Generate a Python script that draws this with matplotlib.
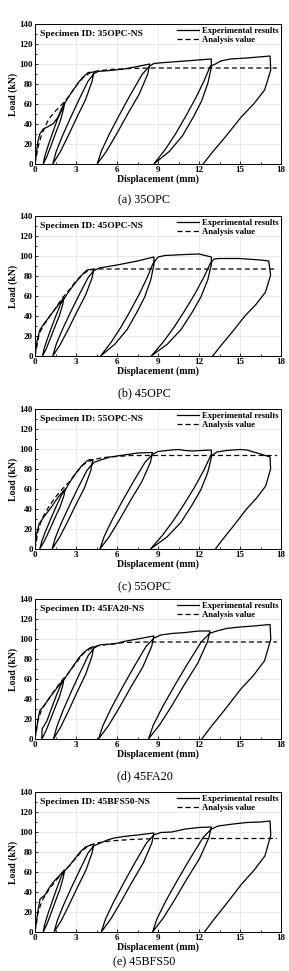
import matplotlib
matplotlib.use('Agg')
import matplotlib.pyplot as plt
from matplotlib.ticker import MultipleLocator

plt.rcParams['font.family'] = ['Liberation Serif', 'DejaVu Serif']

# 35OPC
exp_x_35opc = [0, 0.1, 0.2, 0.35, 0.6, 0.9, 1.3, 1.7, 2.0, 2.15,
               2.09, 1.84, 1.5, 1.17, 0.88, 0.6,
               0.72, 0.96, 1.27, 1.59, 1.93, 2.15,
               2.4, 2.8, 3.2, 3.6, 3.9, 4.3,
               4.18, 3.7, 3.04, 2.41, 1.84, 1.3,
               1.54, 1.99, 2.59, 3.22, 3.88, 4.3,
               4.6, 5.5, 6.5, 7.5, 8.4,
               8.25, 7.63, 6.78, 5.97, 5.24, 4.55,
               4.86, 5.44, 6.21, 7.01, 7.86, 8.4,
               8.7, 9.5, 11.0, 12.9,
               12.9, 12.65, 12.19, 11.6, 10.8, 9.83, 8.7,
               9.54, 10.3, 11.01, 11.77, 12.4, 12.82,
               13.2, 13.6, 14.3, 15.5, 17.2,
               17.25, 16.8, 16.0, 15.09, 13.92, 12.99, 12.3]
exp_y_35opc = [0, 10, 22, 30, 35, 37, 40, 47, 55, 61,
               55, 42.7, 30.5, 18.3, 7.9, 0,
               7.9, 18.3, 30.5, 42.7, 55, 60,
               66, 74, 82, 88, 91.5, 92,
               82.8, 64.4, 46, 27.6, 12, 0,
               12, 27.6, 46, 64.4, 82.8, 90.2,
               92.5, 93.5, 95, 97.5, 100,
               90, 70, 50, 30, 13, 0,
               13, 30, 50, 70, 90, 98,
               100.5, 101.5, 103, 105,
               96.6, 80.9, 63, 47.3, 28.4, 12.6, 0,
               14.7, 30.5, 47.3, 66.2, 84, 97.7,
               100, 103, 105, 106, 108,
               94, 74, 60, 47, 27, 12, 0]
ana_x_35opc = [0, 0.2, 0.5, 1.0, 1.5, 2.0, 2.5, 3.0, 3.5, 4.0, 4.5, 5.5, 7.0, 8.5, 17.7]
ana_y_35opc = [0, 16, 30, 45, 53, 60, 68, 78, 86, 91, 93, 94.5, 95.5, 96, 96]

# 45OPC
exp_x_45opc = [0, 0.15, 0.35, 0.7, 1.2, 1.7, 2.1,
               2.04, 1.79, 1.45, 1.12, 0.83, 0.55,
               0.67, 0.91, 1.22, 1.54, 1.88, 2.1,
               2.5, 3.0, 3.5, 3.8, 4.3,
               4.18, 3.7, 3.04, 2.41, 1.84, 1.3,
               1.54, 1.99, 2.59, 3.22, 3.88, 4.3,
               4.7, 6.0, 7.5, 8.7,
               8.7, 8.47, 8.04, 7.49, 6.75, 5.85, 4.8,
               5.58, 6.28, 6.95, 7.65, 8.23, 8.62,
               9.0, 9.5, 11.0, 12.0, 12.9,
               12.9, 12.64, 12.15, 11.54, 10.7, 9.69, 8.5,
               9.38, 10.17, 10.92, 11.71, 12.37, 12.81,
               13.1, 13.5, 15.0, 16.5, 17.1,
               17.24, 16.86, 16.17, 15.39, 14.39, 13.59, 13.0]
exp_y_45opc = [0, 15, 26, 33, 42, 51, 58,
               52.2, 40.6, 29, 17.4, 7.5, 0,
               7.5, 17.4, 29, 40.6, 52.2, 56.8,
               65, 74, 82, 86, 87,
               78.3, 60.9, 43.5, 26.1, 11.3, 0,
               11.3, 26.1, 43.5, 60.9, 78.3, 85.3,
               88, 91, 95, 99,
               91.1, 76.2, 59.4, 44.6, 26.7, 11.9, 0,
               13.9, 28.7, 44.6, 62.4, 79.2, 92.1,
               99, 100.5, 101.5, 102, 99,
               91.1, 76.2, 59.4, 44.6, 26.7, 11.9, 0,
               13.9, 28.7, 44.6, 62.4, 79.2, 92.1,
               97, 97.5, 97.5, 96, 95,
               80.9, 63.7, 51.6, 40.5, 23.3, 10.2, 0]
ana_x_45opc = [0, 0.3, 0.6, 1.0, 1.5, 2.0, 2.5, 3.0, 3.5, 4.0, 4.5, 17.7]
ana_y_45opc = [0, 22, 30, 38, 48, 58, 66, 75, 82, 86, 87, 87]

# 55OPC
exp_x_55opc = [0, 0.1, 0.3, 0.7, 1.2, 1.7, 2.2,
               2.13, 1.83, 1.42, 1.03, 0.68, 0.35,
               0.5, 0.78, 1.15, 1.53, 1.94, 2.2,
               2.6, 3.0, 3.4, 3.8, 4.0, 4.25, 4.2,
               4.08, 3.61, 2.96, 2.34, 1.78, 1.25,
               1.49, 1.93, 2.52, 3.14, 3.79, 4.2,
               4.4, 4.8, 5.5, 6.5, 7.5, 8.6,
               8.45, 7.83, 6.98, 6.17, 5.44, 4.75,
               5.06, 5.64, 6.41, 7.21, 8.06, 8.6,
               9.0, 10.0, 10.5, 11.0, 11.5, 12.9,
               12.9, 12.63, 12.14, 11.52, 10.68, 9.65, 8.45,
               9.34, 10.14, 10.9, 11.7, 12.37, 12.81,
               13.3, 14.0, 15.0, 15.5, 16.5, 17.2,
               17.24, 16.88, 16.22, 15.48, 14.52, 13.76, 13.2]
exp_y_55opc = [0, 14, 25, 33, 42, 52, 60,
               54, 42, 30, 18, 7.8, 0,
               7.8, 18, 30, 42, 54, 58.8,
               68, 76, 83, 88, 89.5, 89, 87,
               78.3, 60.9, 43.5, 26.1, 11.3, 0,
               11.3, 26.1, 43.5, 60.9, 78.3, 85.3,
               87, 89, 92, 94, 96, 96.5,
               86.9, 67.6, 48.3, 29, 12.5, 0,
               12.5, 29, 48.3, 67.6, 86.9, 94.6,
               97.5, 99, 99.5, 98.5, 98, 99,
               91.1, 76.2, 59.4, 44.6, 26.7, 11.9, 0,
               13.9, 28.7, 44.6, 62.4, 79.2, 92.1,
               97, 98.5, 99.5, 99, 95, 92,
               80, 63, 51.1, 40, 23, 10.1, 0]
ana_x_55opc = [0, 0.2, 0.5, 1.0, 1.5, 2.0, 2.5, 3.0, 3.5, 4.0, 4.5, 5.0, 6.0, 7.0, 17.7]
ana_y_55opc = [0, 17, 30, 42, 52, 60, 67, 76, 84, 88, 90, 91.5, 92.5, 93.5, 93.5]

# 45FA20
exp_x_45fa20 = [0, 0.12, 0.24, 0.37, 0.6, 1.1, 1.6, 2.1,
                2.04, 1.78, 1.43, 1.09, 0.79, 0.5,
                0.52, 0.87, 1.19, 1.52, 1.88, 2.1,
                2.4, 2.8, 3.2, 3.6, 4.0, 4.3,
                4.18, 3.71, 3.06, 2.44, 1.88, 1.35,
                1.59, 2.03, 2.62, 3.24, 3.89, 4.3,
                4.7, 5.0, 5.8, 6.5, 7.5, 8.7,
                8.54, 7.89, 7.0, 6.15, 5.38, 4.65,
                4.97, 5.58, 6.39, 7.24, 8.13, 8.7,
                9.2, 10.0, 11.0, 12.0, 12.8,
                12.62, 11.9, 10.91, 9.97, 9.11, 8.3,
                8.66, 9.34, 10.24, 11.18, 12.17, 12.8,
                13.3, 14.0, 15.0, 16.0, 17.2,
                17.25, 16.8, 15.98, 15.05, 13.85, 12.9, 12.2]
exp_y_45fa20 = [0, 11, 21, 29, 32, 42, 51, 60,
                54, 42, 30, 18, 7.8, 0,
                10, 18, 30, 42, 54, 58.8,
                65, 73, 81, 87, 91, 92.5,
                83.3, 64.8, 46.3, 27.8, 12, 0,
                12, 27.8, 46.3, 64.8, 83.3, 90.7,
                94, 94.5, 95, 97.5, 100, 103,
                92.7, 72.1, 51.5, 30.9, 13.4, 0,
                13.4, 30.9, 51.5, 72.1, 92.7, 100.9,
                104, 105.5, 106.5, 108, 108,
                97.2, 75.6, 54, 32.4, 14, 0,
                14, 32.4, 54, 75.6, 97.2, 105.8,
                108, 110.5, 112, 113, 114.5,
                99.6, 78.4, 63.5, 49.8, 28.6, 12.6, 0]
ana_x_45fa20 = [0, 0.2, 0.5, 1.0, 1.5, 2.0, 2.5, 3.0, 3.5, 4.0, 4.5, 5.5, 6.5, 8.0, 17.7]
ana_y_45fa20 = [0, 18, 30, 40, 50, 59, 67, 76, 85, 90, 93, 95, 96.5, 97, 97]

# 45BFS50
exp_x_45bfs50 = [0, 0.2, 0.37, 0.73, 0.98, 1.34, 1.83, 2.15,
                 2.09, 1.84, 1.5, 1.17, 0.88, 0.6,
                 0.72, 0.96, 1.27, 1.59, 1.93, 2.15,
                 2.5, 2.9, 3.3, 3.7, 4.0, 4.3,
                 4.18, 3.72, 3.08, 2.47, 1.92, 1.4,
                 1.63, 2.07, 2.65, 3.26, 3.89, 4.3,
                 4.8, 5.3, 5.8, 6.5, 7.5, 8.7,
                 8.55, 7.93, 7.08, 6.27, 5.54, 4.85,
                 5.16, 5.74, 6.51, 7.31, 8.16, 8.7,
                 9.2, 10.0, 11.0, 12.0, 12.9,
                 12.73, 12.04, 11.09, 10.19, 9.37, 8.6,
                 8.94, 9.59, 10.45, 11.35, 12.3, 12.9,
                 13.4, 14.5, 15.5, 16.5, 17.2,
                 17.25, 16.82, 16.02, 15.14, 13.98, 13.07, 12.4]
exp_y_45bfs50 = [0, 20, 33, 37, 43, 50, 57, 62,
                 55.8, 43.4, 31, 18.6, 8.1, 0,
                 8.1, 18.6, 31, 43.4, 55.8, 60.8,
                 66, 73, 80, 85, 86.5, 88,
                 79.2, 61.6, 44, 26.4, 11.4, 0,
                 11.4, 26.4, 44, 61.6, 79.2, 86.2,
                 89, 92, 94, 95.5, 97, 99,
                 89.1, 69.3, 49.5, 29.7, 12.9, 0,
                 12.9, 29.7, 49.5, 69.3, 89.1, 97,
                 99.5, 100, 103, 104.5, 105,
                 94.5, 73.5, 52.5, 31.5, 13.7, 0,
                 13.7, 31.5, 52.5, 73.5, 94.5, 102.9,
                 106, 108, 109.5, 110, 111,
                 96.6, 76, 61.6, 48.3, 27.8, 12.2, 0]
ana_x_45bfs50 = [0, 0.2, 0.5, 1.0, 1.5, 2.0, 2.5, 3.0, 3.5, 4.0, 4.5, 5.5, 7.0, 9.0, 17.7]
ana_y_45bfs50 = [0, 18, 31, 42, 51, 59, 66, 74, 82, 86.5, 89, 91, 92.5, 93.5, 93.5]

specimens = ['35OPC', '45OPC', '55OPC', '45FA20', '45BFS50']
captions = ['(a) 35OPC', '(b) 45OPC', '(c) 55OPC', '(d) 45FA20', '(e) 45BFS50']
curves = [(exp_x_35opc, exp_y_35opc, ana_x_35opc, ana_y_35opc),
          (exp_x_45opc, exp_y_45opc, ana_x_45opc, ana_y_45opc),
          (exp_x_55opc, exp_y_55opc, ana_x_55opc, ana_y_55opc),
          (exp_x_45fa20, exp_y_45fa20, ana_x_45fa20, ana_y_45fa20),
          (exp_x_45bfs50, exp_y_45bfs50, ana_x_45bfs50, ana_y_45bfs50)]

W, H = 289, 971
fig = plt.figure(figsize=(W / 100, H / 100), dpi=100)

tops = [24, 216, 409, 599, 792]   # pixel row of y=140
cap_y = [200, 393, 587, 776, 962]
ax_h = 140

for i in range(5):
    bottom = 1 - (tops[i] + ax_h) / H
    ax = fig.add_axes([35 / W, bottom, 246 / W, ax_h / H])
    ex, ey, axx, ayy = curves[i]
    ax.plot(ex, ey, color='black', lw=0.9, label='Experimental results')
    ax.plot(axx, ayy, color='black', lw=0.9, ls=(0, (4, 2.5)), label='Analysis value')
    ax.set_xlim(0, 18)
    ax.set_ylim(0, 140)
    ax.xaxis.set_major_locator(MultipleLocator(3))
    ax.yaxis.set_major_locator(MultipleLocator(20))
    ax.xaxis.set_minor_locator(MultipleLocator(1.5))
    ax.yaxis.set_minor_locator(MultipleLocator(10))
    ax.grid(True, which='major', color='#e0e0e0', lw=0.5)
    ax.set_axisbelow(True)
    ax.tick_params(which='both', direction='in', top=False, right=False, width=0.6)
    ax.tick_params(which='major', length=2.5, labelsize=6.5, pad=1.5)
    ax.tick_params(which='minor', length=1.5)
    for lab in ax.get_xticklabels() + ax.get_yticklabels():
        lab.set_fontweight('bold')
    for sp in ax.spines.values():
        sp.set_linewidth(0.7)
    ax.set_xlabel('Displacement (mm)', fontsize=7, fontweight='bold', labelpad=0.5)
    ax.set_ylabel('Load (kN)', fontsize=7, fontweight='bold', labelpad=1)
    ax.text(0.02, 0.955, 'Specimen ID: ' + specimens[i] + '-NS', transform=ax.transAxes,
            fontsize=6.8, fontweight='bold', va='top', ha='left')
    ax.legend(loc='upper right', frameon=False, prop={'size': 6.2, 'weight': 'bold'},
              handlelength=2.6, handletextpad=0.3, labelspacing=0.15,
              borderaxespad=0.1, borderpad=0.2)
    fig.text(0.5, 1 - cap_y[i] / H, captions[i], ha='center', va='center', fontsize=8.7)

fig.savefig('out.png', dpi=100)
